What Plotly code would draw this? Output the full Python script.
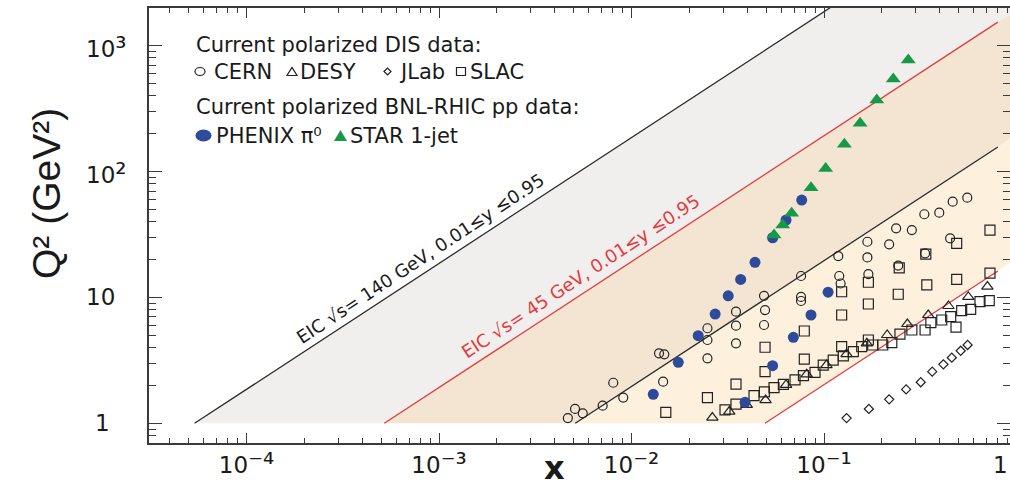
import math
import plotly.graph_objects as go

# ---------------------------------------------------------------- data
# Collider kinematics: Q^2 = y * s * x
eic_sqrt_s = [140.0, 45.0]
eic_line_colors = ["#2b2b2b", "#e33b3d"]
y_inel = [0.01, 0.95]
q2_floor = 1.0
q2_ceiling = 1.0e4
x_line_end = 0.8

band_colors = {"only140": "#f0efee", "both": "#f3e5d2", "only45": "#fdf1de"}

cern_x = [0.00467, 0.00509, 0.00558, 0.00708, 0.00804, 0.00906, 0.0139, 0.0148, 0.0146,
          0.0248, 0.0248, 0.0248, 0.0349, 0.0349, 0.0349, 0.0488, 0.0494, 0.0488,
          0.0760, 0.0760, 0.0760, 0.1186, 0.120, 0.122, 0.168, 0.170, 0.243, 0.335,
          0.168, 0.218, 0.237, 0.286, 0.332, 0.397, 0.466, 0.555, 0.452]
cern_q2 = [1.10, 1.30, 1.20, 1.38, 2.10, 1.60, 3.60, 3.53, 2.14,
           5.69, 4.59, 3.28, 7.70, 5.96, 4.32, 10.3, 7.94, 6.04,
           14.8, 10.1, 9.37, 21.3, 14.8, 12.9, 20.8, 15.3, 17.9, 22.4,
           27.7, 26.4, 35.4, 34.3, 45.8, 47.1, 57.6, 62.0, 29.5]

desy_x = [0.0263, 0.0322, 0.0397, 0.0497, 0.0635, 0.0813, 0.103, 0.131, 0.167,
          0.213, 0.271, 0.348, 0.443, 0.562, 0.706]
desy_q2 = [1.11, 1.24, 1.40, 1.53, 2.02, 2.45, 2.90, 3.55, 4.32,
           5.03, 6.15, 7.25, 8.55, 10.1, 12.2]

jlab_x = [0.131, 0.171, 0.218, 0.267, 0.318, 0.365, 0.417, 0.461, 0.513, 0.557]
jlab_q2 = [1.10, 1.30, 1.55, 1.86, 2.12, 2.57, 2.94, 3.32, 3.77, 4.19]

slac_x = [0.01507, 0.0248, 0.0306, 0.0349, 0.0349, 0.0433, 0.0490, 0.0494, 0.0494,
          0.0550, 0.0615, 0.0707, 0.0782, 0.0790, 0.0790, 0.0898, 0.0991, 0.1116,
          0.1235, 0.1235, 0.1235, 0.126, 0.142, 0.157, 0.170, 0.170, 0.170, 0.179,
          0.202, 0.225, 0.248, 0.243, 0.246, 0.286, 0.335, 0.342, 0.338, 0.359,
          0.409, 0.455, 0.485, 0.489, 0.519, 0.578, 0.646, 0.722, 0.728, 0.728, 0.489]
slac_q2 = [1.22, 1.60, 1.28, 2.05, 1.42, 1.66, 1.78, 2.57, 4.02,
           1.92, 2.04, 2.21, 2.39, 3.24, 5.41, 2.54, 2.90, 3.18,
           4.06, 7.25, 11.1, 3.43, 3.71, 4.06, 4.59, 8.87, 13.2, 4.19,
           4.19, 4.37, 5.12, 10.6, 17.2, 5.51, 5.51, 12.6, 22.1, 6.30,
           6.62, 7.03, 5.80, 13.9, 7.85, 8.05, 9.25, 9.42, 15.6, 34.3, 26.9]

phenix_x = [0.01297, 0.0175, 0.0222, 0.0272, 0.0318, 0.0369, 0.0438, 0.0389, 0.0541,
            0.0693, 0.0856, 0.105, 0.0766, 0.0635, 0.0541]
phenix_q2 = [1.70, 3.05, 4.97, 7.38, 10.3, 13.9, 19.0, 1.47, 2.87,
             4.82, 7.25, 11.0, 59.4, 41.2, 29.8]

star_x = [0.274, 0.229, 0.188, 0.154, 0.1276, 0.102, 0.0856, 0.0679, 0.0610, 0.0550]
star_q2 = [769, 544, 370, 242, 165, 106, 74.5, 46.6, 37.6, 31.3]

x_major = [1e-4, 1e-3, 1e-2, 1e-1]
x_major_base = ["10", "10", "10", "10"]
x_major_exp = ["⁻⁴", "⁻³", "⁻²", "⁻¹"]
y_major = [1, 10, 100, 1000]
y_major_base = ["1", "10", "10", "10"]
y_major_exp = ["", "", "²", "³"]

# ---------------------------------------------------------------- geometry
W, H = 1010, 489
ML, MR, MT, MB = 149, 0, 8, 46
PW, PH = W - ML - MR, H - MT - MB
X_RANGE = [-4.5065, -0.0338]
Y_RANGE = [-0.1565, 3.2995]

TEXT = "#1a1a1a"
AXIS = "#3a3a3a"
FONT = "DejaVu Sans"
TICK_SIZE = 23
EXP_SIZE = 28


def power_label(mantissa, exponent):
    if not exponent:
        return mantissa
    return f'{mantissa}<span style="font-size:{EXP_SIZE}px">{exponent}</span>'


def px_x(p):
    return (p - ML) / PW


def px_y(p):
    return (H - MB - p) / PH


def band(lo, hi):
    """Polygon of lo*x <= Q2 <= hi*x, Q2 >= q2_floor, x <= 1."""
    xs = [q2_floor / hi, min(q2_floor / lo, 1.0)]
    qs = [q2_floor, q2_floor]
    if q2_floor / lo < 1.0:
        xs.append(1.0)
        qs.append(lo)
    xs.append(1.0)
    qs.append(min(hi, q2_ceiling))
    if hi > q2_ceiling:
        xs.append(q2_ceiling / hi)
        qs.append(q2_ceiling)
    xs.append(xs[0])
    qs.append(qs[0])
    return xs, qs


s_hi = eic_sqrt_s[0] ** 2
s_lo = eic_sqrt_s[1] ** 2

fig = go.Figure()

# shaded kinematic reach
for (lo, hi), key in [((y_inel[1] * s_lo, y_inel[1] * s_hi), "only140"),
                      ((y_inel[0] * s_hi, y_inel[1] * s_lo), "both"),
                      ((y_inel[0] * s_lo, y_inel[0] * s_hi), "only45")]:
    bx, bq = band(lo, hi)
    fig.add_trace(go.Scatter(x=bx, y=bq, mode="lines", fill="toself",
                             fillcolor=band_colors[key], line=dict(width=0),
                             hoverinfo="skip"))

# kinematic limits y = 0.01 and y = 0.95
for rs, col in zip(eic_sqrt_s, eic_line_colors):
    s = rs ** 2
    for yv in y_inel:
        x0 = q2_floor / (yv * s)
        x1 = min(x_line_end, q2_ceiling / (yv * s))
        fig.add_trace(go.Scatter(x=[x0, x1], y=[yv * s * x0, yv * s * x1],
                                 mode="lines", line=dict(color=col, width=1.3),
                                 hoverinfo="skip"))

open_style = dict(color="#222222", line=dict(width=1.2))
fig.add_trace(go.Scatter(x=cern_x, y=cern_q2, mode="markers", name="CERN",
                         marker=dict(symbol="circle-open", size=9, **open_style)))
fig.add_trace(go.Scatter(x=desy_x, y=desy_q2, mode="markers", name="DESY",
                         marker=dict(symbol="triangle-up-open", size=10, **open_style)))
fig.add_trace(go.Scatter(x=jlab_x, y=jlab_q2, mode="markers", name="JLab",
                         marker=dict(symbol="diamond-open", size=7, **open_style)))
fig.add_trace(go.Scatter(x=slac_x, y=slac_q2, mode="markers", name="SLAC",
                         marker=dict(symbol="square-open", size=10, **open_style)))
fig.add_trace(go.Scatter(x=phenix_x, y=phenix_q2, mode="markers", name="PHENIX",
                         marker=dict(symbol="circle", size=11, color="#2e4b9b")))
fig.add_trace(go.Scatter(x=star_x, y=star_q2, mode="markers", name="STAR",
                         marker=dict(symbol="triangle-up", size=13, color="#17994a")))

# ---------------------------------------------------------------- axes
minor_x = [d * 10.0 ** k for k in range(-5, 1) for d in range(2, 10)]
minor_y = [d * 10.0 ** k for k in range(-1, 4) for d in range(2, 10)]

fig.update_xaxes(type="log", range=X_RANGE, showline=True, linecolor=AXIS, linewidth=2,
                 mirror="ticks", ticks="inside", ticklen=10, tickwidth=1.3, tickcolor=AXIS,
                 tickmode="array", tickvals=x_major,
                 ticktext=[power_label(b, e) for b, e in zip(x_major_base, x_major_exp)],
                 tickfont=dict(family=FONT, size=TICK_SIZE, color=TEXT),
                 minor=dict(ticks="inside", ticklen=5, tickwidth=1.1, tickcolor=AXIS,
                            tickmode="array", tickvals=minor_x, showgrid=False),
                 showgrid=False, zeroline=False, automargin=False)
fig.update_yaxes(type="log", range=Y_RANGE, showline=True, linecolor=AXIS, linewidth=2,
                 mirror="ticks", ticks="inside", ticklen=13, tickwidth=1.3, tickcolor=AXIS,
                 tickmode="array", tickvals=y_major, showticklabels=False,
                 minor=dict(ticks="inside", ticklen=7, tickwidth=1.1, tickcolor=AXIS,
                            tickmode="array", tickvals=minor_y, showgrid=False),
                 showgrid=False, zeroline=False, automargin=False)

annotations = []


def note(text, x, y, size, color=TEXT, xanchor="left", yanchor="middle", angle=0,
         family=FONT, xref="paper", yref="paper", yshift=0):
    annotations.append(dict(text=text, x=x, y=y, xref=xref, yref=yref, showarrow=False,
                            xanchor=xanchor, yanchor=yanchor, textangle=angle,
                            yshift=yshift, borderpad=0,
                            font=dict(family=family, size=size, color=color)))


# y tick labels (left column)
for val, base, exp in zip(y_major, y_major_base, y_major_exp):
    label = power_label(base, exp)
    if val == 1:
        note(label, px_x(102.5), math.log10(val), TICK_SIZE, xanchor="center", yref="y")
    else:
        note(label, px_x(85), math.log10(val), TICK_SIZE, xanchor="left", yref="y",
             yshift=-2 if exp else 0)

# x = 1 label tucked against the right border
note("1", px_x(1009), px_y(465), TICK_SIZE, xanchor="right")

# axis titles
note("<b>x</b>", px_x(554), px_y(488), 32, xanchor="center", yanchor="bottom")
note("Q² (GeV²)", px_x(47), px_y(194), 39, xanchor="center",
     angle=-90, family="Liberation Sans")

# band labels along the y = 0.95 lines
note("EIC √s= 140 GeV, 0.01≤y ≤0.95", px_x(420), px_y(258), 18, color=TEXT,
     xanchor="center", angle=-33.5)
note("EIC √s= 45 GeV, 0.01≤y ≤0.95", px_x(580), px_y(276), 18, color=eic_line_colors[1],
     xanchor="center", angle=-33.5)

# key
note("Current polarized DIS data:", px_x(195), px_y(45), 21)
for label, left in [("CERN", 213), ("DESY", 299), ("JLab", 398), ("SLAC", 469)]:
    note(label, px_x(left), px_y(71.5), 21)
note("Current polarized BNL-RHIC pp data:", px_x(195), px_y(107.5), 21)
note("PHENIX π⁰", px_x(215), px_y(135.5), 21)
note("STAR 1-jet", px_x(349), px_y(135.5), 21)

shapes = []


def key_shape(kind, cx, cy, w, h, fill=None, line_color="#222222"):
    base = dict(xref="paper", yref="paper", xsizemode="pixel", ysizemode="pixel",
                xanchor=px_x(cx), yanchor=px_y(cy),
                line=dict(color=line_color, width=1.2),
                fillcolor=fill if fill else "rgba(0,0,0,0)")
    hw, hh = w / 2, h / 2
    if kind == "circle":
        base.update(type="circle", x0=-hw, x1=hw, y0=-hh, y1=hh)
    elif kind == "square":
        base.update(type="rect", x0=-hw, x1=hw, y0=-hh, y1=hh)
    elif kind == "triangle":
        base.update(type="path", path=f"M{-hw},{-hh} L{hw},{-hh} L0,{hh} Z")
    elif kind == "diamond":
        base.update(type="path", path=f"M{-hw},0 L0,{hh} L{hw},0 L0,{-hh} Z")
    if fill:
        base["line"] = dict(width=0)
    shapes.append(base)


key_shape("circle", 200, 71.5, 10, 8)
key_shape("triangle", 292, 71.5, 10, 8)
key_shape("diamond", 387.5, 71.5, 7, 7)
key_shape("square", 461, 71.5, 9, 8)
key_shape("circle", 203.5, 135.5, 16, 12, fill="#2e4b9b")
key_shape("triangle", 340.5, 135.5, 13, 11, fill="#17994a")

fig.update_layout(width=W, height=H, margin=dict(l=ML, r=MR, t=MT, b=MB, pad=0),
                  plot_bgcolor="white", paper_bgcolor="white", showlegend=False,
                  annotations=annotations, shapes=shapes)

fig.write_html("out.html")
